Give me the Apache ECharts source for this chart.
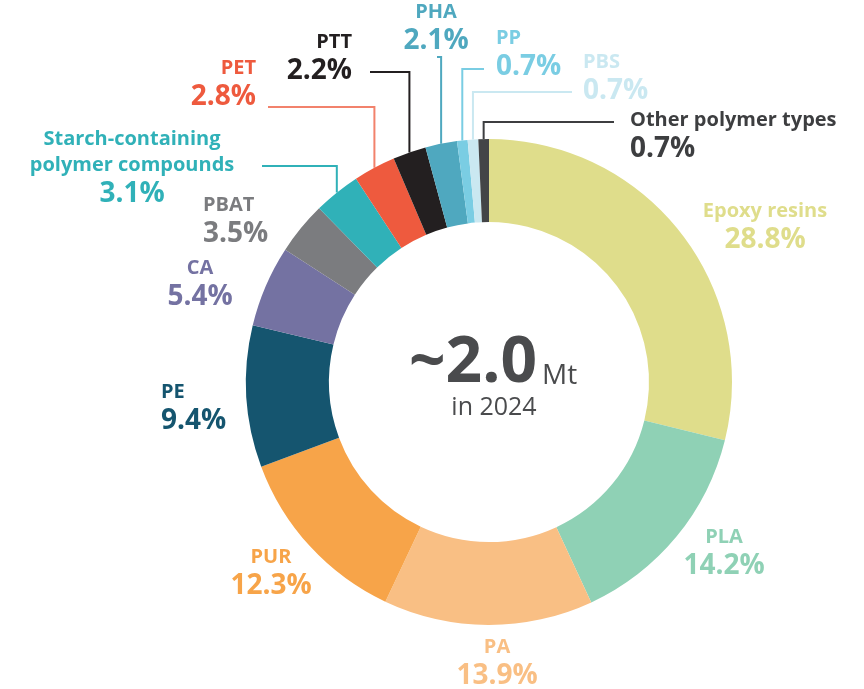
<!DOCTYPE html>
<html>
<head>
<meta charset="utf-8">
<script src="https://cdn.jsdelivr.net/npm/echarts@6/dist/echarts.min.js"></script>
<style>
  html, body { margin: 0; padding: 0; background: #fff; }
  #chart { width: 864px; height: 689px; }
</style>
</head>
<body>
<div id="chart"></div>
<script>
const categories = ['Epoxy resins', 'PLA', 'PA', 'PUR', 'PE', 'CA', 'PBAT',
  'Starch-containing\npolymer compounds', 'PET', 'PTT', 'PHA', 'PP', 'PBS', 'Other polymer types'];
const shares = [28.8, 14.2, 13.9, 12.3, 9.4, 5.4, 3.5, 3.1, 2.8, 2.2, 2.1, 0.7, 0.7, 0.7];
const totalText = '~2.0';
const totalUnit = 'Mt';
const yearText = 'in 2024';

const sliceColors = ['#dfdd8b', '#8fd1b5', '#f9bf84', '#f7a449', '#15556f', '#7472a2', '#7b7c7f',
  '#30b1b8', '#ee5a3e', '#231f20', '#4fa8bf', '#7acde3', '#cae8f1', '#434547'];
const textColors = ['#dfdd8b', '#8fd1b5', '#f9bf84', '#f7a449', '#15556f', '#7472a2', '#7b7c7f',
  '#30b1b8', '#ee5a3e', '#231f20', '#4fa8bf', '#7acde3', '#cae8f1', '#3d3e40'];
const lineColors = [null, null, null, null, null, null, null,
  '#30b1b8', '#f2826c', '#231f20', '#4fa8bf', '#7acde3', '#cae8f1', '#3d3e40'];

// label placement (block centre) and where a leader line leaves the text
const labelSpots = [
  { x: 765, y: 227, align: 'center' },
  { x: 724, y: 553, align: 'center' },
  { x: 497, y: 663, align: 'center' },
  { x: 271, y: 573, align: 'center' },
  { x: 161, y: 408, align: 'left' },
  { x: 200, y: 284, align: 'center' },
  { x: 203, y: 221, align: 'left' },
  { x: 132, y: 168, align: 'center' },
  { x: 256, y: 84, align: 'right' },
  { x: 352, y: 58, align: 'right' },
  { x: 436, y: 28, align: 'center' },
  { x: 496, y: 54, align: 'left' },
  { x: 583, y: 78, align: 'left' },
  { x: 630, y: 136, align: 'left' }
];
const leaderStarts = [null, null, null, null, null, null, null,
  [262, 166], [268, 107], [370, 72], [437, 57], [484, 69], [572, 92], [614, 122]];

const FONT = '"Open Sans", sans-serif';
const CENTER_INK = '#4a4b4d';

var myChart = echarts.init(document.getElementById('chart'), null, { renderer: 'canvas' });

const pieData = categories.map((name, i) => {
  const nameLines = name.split('\n').map(s => '{n|' + s + '}').join('\n');
  return {
    name: name,
    value: shares[i],
    itemStyle: { color: sliceColors[i] },
    label: {
      color: textColors[i],
      formatter: nameLines + '\n{v|' + shares[i].toFixed(1) + '%}',
      rich: {
        n: { color: textColors[i], fontSize: 20, fontWeight: 700, lineHeight: 26, fontFamily: FONT },
        v: { color: textColors[i], fontSize: 28, fontWeight: 700, lineHeight: 32, fontFamily: FONT }
      }
    },
    labelLine: {
      show: !!leaderStarts[i],
      lineStyle: { color: lineColors[i] || textColors[i], width: 2 }
    }
  };
});

myChart.setOption({
  animation: false,
  graphic: [
    {
      type: 'text',
      x: 537,
      y: 364,
      style: {
        text: totalText,
        textAlign: 'right',
        textVerticalAlign: 'middle',
        fontSize: 64,
        fontWeight: 700,
        fill: CENTER_INK,
        fontFamily: FONT
      }
    },
    {
      type: 'text',
      x: 542,
      y: 376,
      style: {
        text: totalUnit,
        textAlign: 'left',
        textVerticalAlign: 'middle',
        fontSize: 28,
        fontWeight: 400,
        fill: CENTER_INK,
        fontFamily: FONT
      }
    },
    {
      type: 'text',
      x: 494,
      y: 408,
      style: {
        text: yearText,
        textAlign: 'center',
        textVerticalAlign: 'middle',
        fontSize: 25,
        fill: CENTER_INK,
        fontFamily: FONT
      }
    }
  ],
  series: [
    {
      type: 'pie',
      center: [489, 382],
      radius: [160, 243],
      startAngle: 90,
      clockwise: true,
      avoidLabelOverlap: false,
      silent: true,
      label: {
        show: true,
        position: 'outside'
      },
      labelLine: {
        show: false,
        smooth: false
      },
      labelLayout: function (params) {
        const i = params.dataIndex;
        const spot = labelSpots[i];
        const out = {
          x: spot.x,
          y: spot.y,
          align: spot.align,
          verticalAlign: 'middle',
          moveOverlap: false
        };
        const start = leaderStarts[i];
        if (start && params.labelLinePoints) {
          const p = params.labelLinePoints[0];
          out.labelLinePoints = [[p[0], p[1]], [p[0], start[1]], [start[0], start[1]]];
        }
        return out;
      },
      data: pieData
    }
  ]
});
</script>
</body>
</html>
